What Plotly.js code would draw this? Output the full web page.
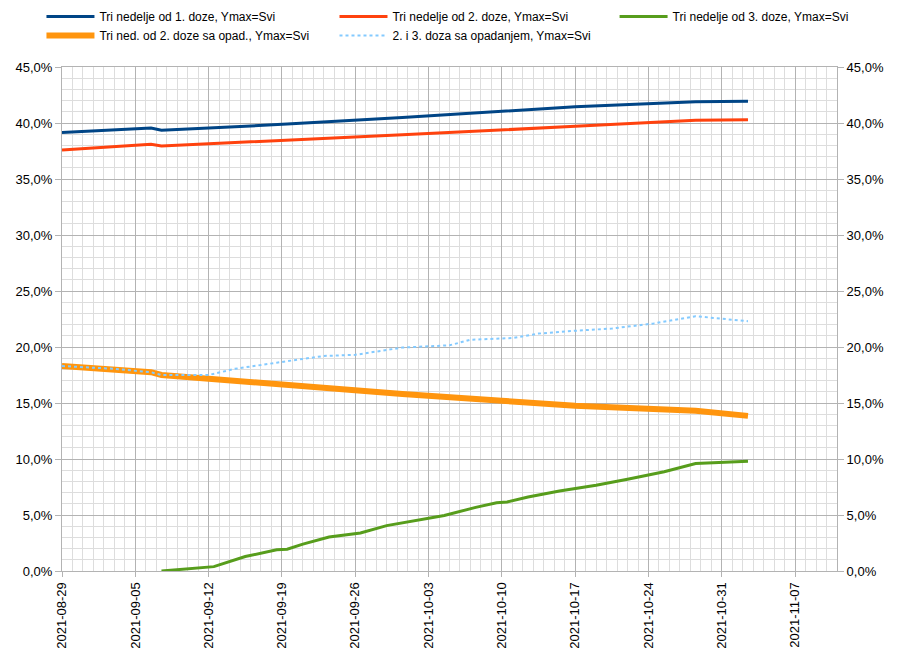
<!DOCTYPE html>
<html>
<head>
<meta charset="utf-8">
<script src="https://cdn.plot.ly/plotly-3.0.1.min.js"></script>
<style>html,body{margin:0;padding:0;background:#fff}#chart{width:900px;height:657px}</style>
</head>
<body>
<div id="chart"></div>
<script>
// Series names
const names = [
  "Tri nedelje od 1. doze, Ymax=Svi",
  "Tri nedelje od 2. doze, Ymax=Svi",
  "Tri nedelje od 3. doze, Ymax=Svi",
  "Tri ned. od 2. doze sa opad., Ymax=Svi",
  "2. i 3. doza sa opadanjem, Ymax=Svi"
];

// Dates and values (fractions)
const datesDose12 = ["2021-08-29","2021-09-06 12:00","2021-09-07 12:00","2021-09-19 12:00","2021-09-30 12:00","2021-10-17","2021-10-28 12:00","2021-11-02 12:00"];
const dose1 = [0.3915,0.3955,0.3935,0.3990,0.4050,0.4145,0.4190,0.4195];
const dose2 = [0.3760,0.3810,0.3795,0.3845,0.3895,0.3970,0.4025,0.4030];

const datesDose3 = ["2021-09-07 12:00","2021-09-12 12:00","2021-09-15 12:00","2021-09-18 12:00","2021-09-19 12:00","2021-09-21","2021-09-23 12:00","2021-09-26 12:00","2021-09-29","2021-10-01 12:00","2021-10-04 12:00","2021-10-07 12:00","2021-10-09 12:00","2021-10-10 12:00","2021-10-12 12:00","2021-10-15 12:00","2021-10-19","2021-10-22","2021-10-25 12:00","2021-10-28 12:00","2021-11-02 12:00"];
const dose3 = [0.0000,0.0039,0.0129,0.0189,0.0195,0.0240,0.0303,0.0339,0.0405,0.0444,0.0495,0.0568,0.0610,0.0616,0.0660,0.0715,0.0766,0.0820,0.0886,0.0960,0.0980];

const datesWaning2 = ["2021-08-29","2021-09-03","2021-09-06 12:00","2021-09-07 12:00","2021-09-12","2021-09-19","2021-09-30 12:00","2021-10-10","2021-10-17","2021-10-28 12:00","2021-11-02 12:00"];
const waning2 = [0.1830,0.1805,0.1775,0.1750,0.1715,0.1660,0.1580,0.1520,0.1476,0.1430,0.1385];

const datesWaning23 = ["2021-08-29","2021-09-03","2021-09-06 12:00","2021-09-07 12:00","2021-09-12","2021-09-14 12:00","2021-09-18 12:00","2021-09-23","2021-09-26","2021-09-30 12:00","2021-10-05","2021-10-07","2021-10-11","2021-10-13 12:00","2021-10-17","2021-10-20 12:00","2021-10-24 12:00","2021-10-28 12:00","2021-11-02 12:00"];
const waning23 = [0.1830,0.1805,0.1775,0.1750,0.1750,0.1805,0.1860,0.1920,0.1930,0.1995,0.2015,0.2065,0.2080,0.2120,0.2145,0.2165,0.2210,0.2275,0.2230];

const FONT = "Liberation Sans, Arial, sans-serif";

const traces = [
  {x: datesDose12, y: dose1, name: names[0], mode: "lines", line: {color: "#004586", width: 3}, legend: "legend", legendgroup: "g1"},
  {x: datesWaning2, y: waning2, name: names[3], mode: "lines", line: {color: "#ff950e", width: 6}, legend: "legend", legendgroup: "g4"},
  {x: datesDose12, y: dose2, name: names[1], mode: "lines", line: {color: "#ff420e", width: 3}, legend: "legend2", legendgroup: "g2"},
  {x: datesWaning23, y: waning23, name: names[4], mode: "lines", line: {color: "#83caff", width: 2, dash: "3px,3px"}, legend: "legend2", legendgroup: "g5"},
  {x: datesDose3, y: dose3, name: names[2], mode: "lines", line: {color: "#579d1c", width: 3}, legend: "legend3", legendgroup: "g3", yaxis: "y2"}
];

const legBase = {
  orientation: "v", xref: "paper", yref: "container", yanchor: "top", xanchor: "left",
  y: 1 - 2 / 657, font: {family: FONT, size: 12, color: "#000"}, bgcolor: "rgba(0,0,0,0)",
  itemwidth: 48, tracegroupgap: 3, traceorder: "normal"
};

const layout = {
  width: 900, height: 657,
  margin: {l: 62, r: 63, t: 67, b: 86},
  paper_bgcolor: "#fff", plot_bgcolor: "#fff",
  separators: ",.",
  font: {family: FONT, size: 13, color: "#000"},
  showlegend: true,
  legend: Object.assign({}, legBase, {x: -0.0265}),
  legend2: Object.assign({}, legBase, {x: 0.3516}),
  legend3: Object.assign({}, legBase, {x: 0.713}),
  xaxis: {
    type: "date",
    range: ["2021-08-29", "2021-11-11"],
    tick0: "2021-08-29", dtick: 7 * 86400000,
    tickformat: "%Y-%m-%d", tickangle: -90,
    ticks: "outside", ticklen: 5, tickcolor: "#b3b3b3",
    showgrid: true, gridcolor: "#b3b3b3", gridwidth: 1,
    minor: {dtick: 86400000, showgrid: true, gridcolor: "#dddddd", gridwidth: 1},
    showline: true, linecolor: "#b3b3b3", linewidth: 1, mirror: true,
    zeroline: false, tickfont: {size: 13}
  },
  yaxis: {
    range: [0, 0.45], dtick: 0.05, tick0: 0, tickformat: ".1%",
    ticks: "outside", ticklen: 6, tickcolor: "#b3b3b3",
    showgrid: true, gridcolor: "#b3b3b3", gridwidth: 1,
    minor: {dtick: 0.01, showgrid: true, gridcolor: "#dddddd", gridwidth: 1},
    showline: true, linecolor: "#b3b3b3", linewidth: 1,
    zeroline: false, tickfont: {size: 13}
  },
  yaxis2: {
    overlaying: "y", side: "right",
    range: [0, 0.45], dtick: 0.05, tick0: 0, tickformat: ".1%",
    ticks: "outside", ticklen: 6, tickcolor: "#b3b3b3",
    showgrid: false, showline: true, linecolor: "#b3b3b3", linewidth: 1,
    zeroline: false, tickfont: {size: 13}
  }
};

Plotly.newPlot("chart", traces, layout, {staticPlot: true, displayModeBar: false});
</script>
</body>
</html>
